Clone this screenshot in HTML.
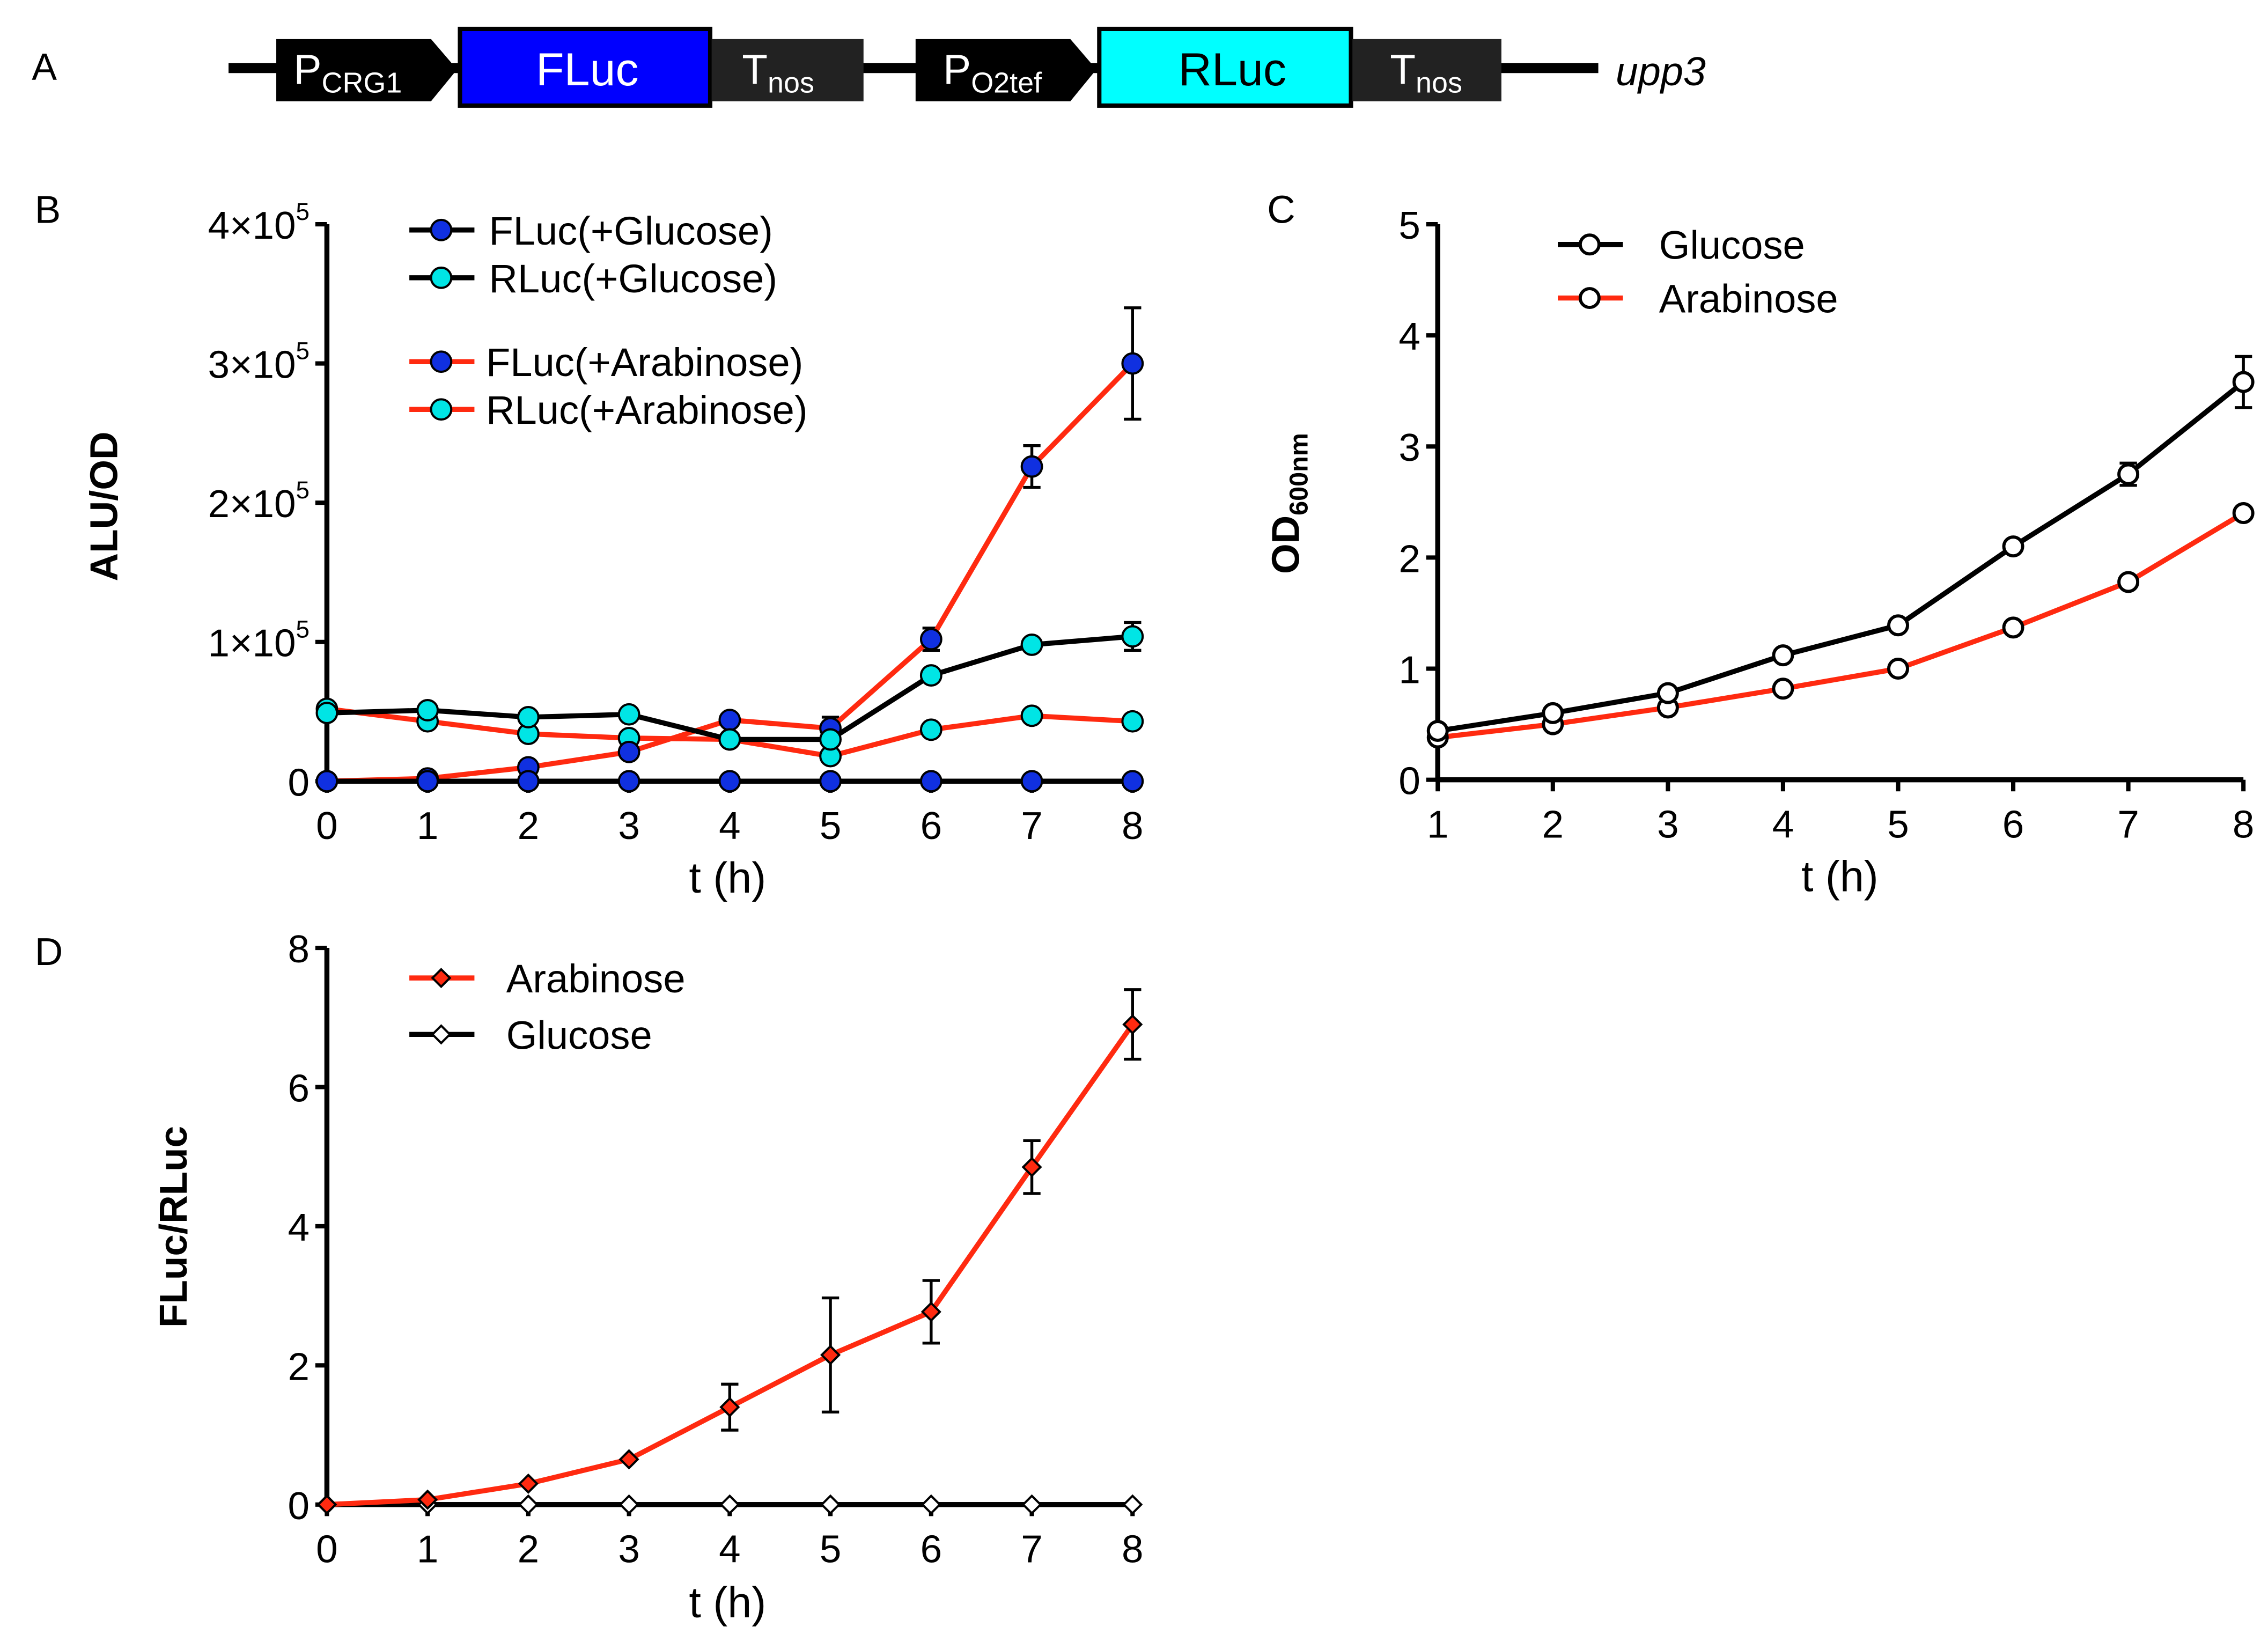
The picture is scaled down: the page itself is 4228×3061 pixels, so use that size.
<!DOCTYPE html>
<html><head><meta charset="utf-8"><style>
html,body{margin:0;padding:0;background:#fff;}
svg{display:block;}
text{font-family:"Liberation Sans",sans-serif;}
</style></head><body>
<svg id="fig" width="4228" height="3061" viewBox="0 0 1568 1135" preserveAspectRatio="none" xmlns="http://www.w3.org/2000/svg">
<g>
<text x="22" y="55" font-size="26">A</text>
<line x1="158" y1="47" x2="1105" y2="47" stroke="#000" stroke-width="7"/>
<polygon points="191,27 298,27 316,48 298,70 191,70" fill="#000"/>
<text x="203" y="58" font-size="29" fill="#fff">P<tspan font-size="20" dy="6">CRG1</tspan></text>
<rect x="318" y="20" width="173" height="53" fill="#0000ff" stroke="#000" stroke-width="3"/>
<text x="406" y="59" font-size="32" fill="#fff" text-anchor="middle">FLuc</text>
<rect x="492" y="27" width="105" height="43" fill="#222"/>
<text x="513" y="58" font-size="29" fill="#fff">T<tspan font-size="20" dy="6">nos</tspan></text>
<polygon points="633,27 740,27 758,48 740,70 633,70" fill="#000"/>
<text x="652" y="58" font-size="29" fill="#fff">P<tspan font-size="20" dy="6">O2tef</tspan></text>
<rect x="760" y="20" width="174" height="53" fill="#00ffff" stroke="#000" stroke-width="3"/>
<text x="852" y="59" font-size="32" fill="#000" text-anchor="middle">RLuc</text>
<rect x="935" y="27" width="103" height="43" fill="#222"/>
<text x="961" y="58" font-size="29" fill="#fff">T<tspan font-size="20" dy="6">nos</tspan></text>
<text x="1117" y="59" font-size="28" font-style="italic">upp3</text>
</g>
<text x="24" y="154" font-size="27">B</text>
<text x="876" y="154" font-size="27">C</text>
<text x="24" y="667" font-size="27">D</text>
</svg>
<script>
// Panel B data (units of 1e5)
const bTimes = [0,1,2,3,4,5,6,7,8];
const bFlucGlu = [0,0,0,0,0,0,0,0,0];
const bRlucGlu = [0.49,0.51,0.46,0.48,0.30,0.30,0.76,0.98,1.04];
const bRlucGluErr = [0,0,0,0,0,0,0,0,0.1];
const bFlucAra = [0,0.02,0.10,0.21,0.44,0.38,1.02,2.26,3.0];
const bFlucAraErr = [0,0,0,0,0,0.08,0.08,0.15,0.4];
const bRlucAra = [0.52,0.43,0.34,0.31,0.30,0.18,0.37,0.47,0.43];
const bYTicks = [0,1,2,3,4];
const bXTicks = [0,1,2,3,4,5,6,7,8];
// Panel C data
const cTimes = [1,2,3,4,5,6,7,8];
const cGlucose = [0.44,0.60,0.78,1.12,1.39,2.10,2.75,3.58];
const cGlucoseErr = [0,0,0,0,0,0,0.1,0.23];
const cArabinose = [0.38,0.50,0.65,0.82,1.00,1.37,1.78,2.40];
const cYTicks = [0,1,2,3,4,5];
const cXTicks = [1,2,3,4,5,6,7,8];
// Panel D data
const dTimes = [0,1,2,3,4,5,6,7,8];
const dArabinose = [0,0.07,0.30,0.65,1.40,2.15,2.77,4.85,6.90];
const dArabinoseErr = [0,0,0,0,0.33,0.82,0.45,0.38,0.5];
const dGlucose = [0,0,0,0,0,0,0,0,0];
const dYTicks = [0,2,4,6,8];
const dXTicks = [0,1,2,3,4,5,6,7,8];

const NS = "http://www.w3.org/2000/svg";
const svg = document.getElementById('fig');
function mk(tag, attrs, parent){const e=document.createElementNS(NS,tag);for(const k in attrs)e.setAttribute(k,attrs[k]);(parent||svg).appendChild(e);return e;}

function axes(g, X, Y, xTicks, yTicks, x0, x1, y0, y1, yFmt){
  const ax = mk('line',{x1:x0,y1:Y(y0),x2:x0,y2:Y(y1),stroke:'#000','stroke-width':3.5},g);
  
  
  const xa = mk('line',{x1:x0,y1:Y(y0),x2:X(x1),y2:Y(y0),stroke:'#000','stroke-width':3.5},g);
  
  
  yTicks.forEach(v=>{
    const t=mk('line',{x1:x0-8,y1:Y(v),x2:x0,y2:Y(v),stroke:'#000','stroke-width':3},g);
    
    
    const l=mk('text',{x:x0-12,y:Y(v)+10,'font-size':27,'text-anchor':'end'},g);
    
    
    yFmt(l,v);
  });
  xTicks.forEach(v=>{
    const t=mk('line',{x1:X(v),y1:Y(y0),x2:X(v),y2:Y(y0)+8,stroke:'#000','stroke-width':3},g);
    
    
    const l=mk('text',{x:X(v),y:Y(y0)+40,'font-size':27,'text-anchor':'middle'},g);
    
    
    l.textContent=v;
  });
}
function series(g, X, Y, xs, ys, errs, color, mfill, marker, name){
  const sg=mk('g',{},g);
  
  
  if(errs){xs.forEach((x,i)=>{if(errs[i]>0){
    const e=mk('path',{d:`M${X(x)},${Y(ys[i]-errs[i])}V${Y(ys[i]+errs[i])}M${X(x)-6},${Y(ys[i]-errs[i])}h12M${X(x)-6},${Y(ys[i]+errs[i])}h12`,stroke:'#000','stroke-width':2,fill:'none'},sg);
    
    
  }});}
  const p=mk('polyline',{points:xs.map((x,i)=>X(x)+','+Y(ys[i])).join(' '),fill:'none',stroke:color,'stroke-width':3.5},sg);
  
  
  xs.forEach((x,i)=>{
    const m=drawMarker(sg,X(x),Y(ys[i]),mfill,marker);
    
    
  });
}
function drawMarker(g,cx,cy,fill,marker){
  if(marker==='diamond') return mk('polygon',{points:`${cx},${cy-6} ${cx+6},${cy} ${cx},${cy+6} ${cx-6},${cy}`,fill:fill,stroke:'#000','stroke-width':1.5},g);
  return mk('circle',{cx:cx,cy:cy,r:marker==='open'?6.5:7,fill:fill,stroke:'#000','stroke-width':marker==='open'?2.2:1.5},g);
}
function legend(g,x,y,color,mfill,marker,label,tx){
  const lg=mk('g',{},g);
  
  
  mk('line',{x1:x,y1:y,x2:x+45,y2:y,stroke:color,'stroke-width':3.5},lg);
  drawMarker(lg,x+22,y,mfill,marker);
  const t=mk('text',{x:tx,y:y+10,'font-size':27.5},lg);
  t.textContent=label;
}
function title(g,x,y,txt,rot,size,bold,name){
  const t=mk('text',{x:x,y:y,'font-size':size,'text-anchor':'middle','font-weight':bold?'bold':'normal',transform:rot?`rotate(-90 ${x} ${y})`:''},g);
  
  
  t.textContent=txt;
  return t;
}

// Panel B
{
  const g=mk('g',{});  
  const X=v=>226+v*(783-226)/8, Y=v=>540-v*96.25;
  axes(g,X,Y,bXTicks,bYTicks,226,8,0,4,(l,v)=>{ if(v===0){l.textContent='0';} else {l.innerHTML=v+'×10<tspan font-size="17" dy="-13">5</tspan>';}});
  title(g,503,617,'t (h)',false,30,false,'x-axis-title');
  title(g,81,350,'ALU/OD',true,27,true,'y-axis-title');
  series(g,X,Y,bTimes,bRlucAra,null,'#ff2a10','#00e5e5','circle','series-rluc-arabinose');
  series(g,X,Y,bTimes,bFlucAra,bFlucAraErr,'#ff2a10','#1030e0','circle','series-fluc-arabinose');
  series(g,X,Y,bTimes,bRlucGlu,bRlucGluErr,'#000','#00e5e5','circle','series-rluc-glucose');
  series(g,X,Y,bTimes,bFlucGlu,null,'#000','#1030e0','circle','series-fluc-glucose');
  legend(g,283,159,'#000','#1030e0','circle','FLuc(+Glucose)',338);
  legend(g,283,192,'#000','#00e5e5','circle','RLuc(+Glucose)',338);
  legend(g,283,250,'#ff2a10','#1030e0','circle','FLuc(+Arabinose)',336);
  legend(g,283,283,'#ff2a10','#00e5e5','circle','RLuc(+Arabinose)',336);
}
// Panel C
{
  const g=mk('g',{});  
  const X=v=>994+(v-1)*(1551-994)/7, Y=v=>539-v*76.8;
  axes(g,X,Y,cXTicks,cYTicks,994,8,0,5,(l,v)=>{l.textContent=v;});
  title(g,1272,616,'t (h)',false,30,false,'x-axis-title');
  const yt=title(g,898,348,'',true,27,true,'y-axis-title');
  yt.innerHTML='OD<tspan font-size="18" dy="6">600nm</tspan>';
  series(g,X,Y,cTimes,cArabinose,null,'#ff2a10','#fff','open','series-arabinose');
  series(g,X,Y,cTimes,cGlucose,cGlucoseErr,'#000','#fff','open','series-glucose');
  legend(g,1077,169,'#000','#fff','open','Glucose',1147);
  legend(g,1077,206,'#ff2a10','#fff','open','Arabinose',1147);
}
// Panel D
{
  const g=mk('g',{});  
  const X=v=>226+v*(783-226)/8, Y=v=>1040-v*48.1;
  axes(g,X,Y,dXTicks,dYTicks,226,8,0,8,(l,v)=>{l.textContent=v;});
  title(g,503,1118,'t (h)',false,30,false,'x-axis-title');
  title(g,129,848,'FLuc/RLuc',true,27,true,'y-axis-title');
  series(g,X,Y,dTimes,dGlucose,null,'#000','#fff','diamond','series-glucose');
  series(g,X,Y,dTimes,dArabinose,dArabinoseErr,'#ff2a10','#ff2a10','diamond','series-arabinose');
  legend(g,283,676,'#ff2a10','#ff2a10','diamond','Arabinose',350);
  legend(g,283,715,'#000','#fff','diamond','Glucose',350);
}
</script>
</body></html>
